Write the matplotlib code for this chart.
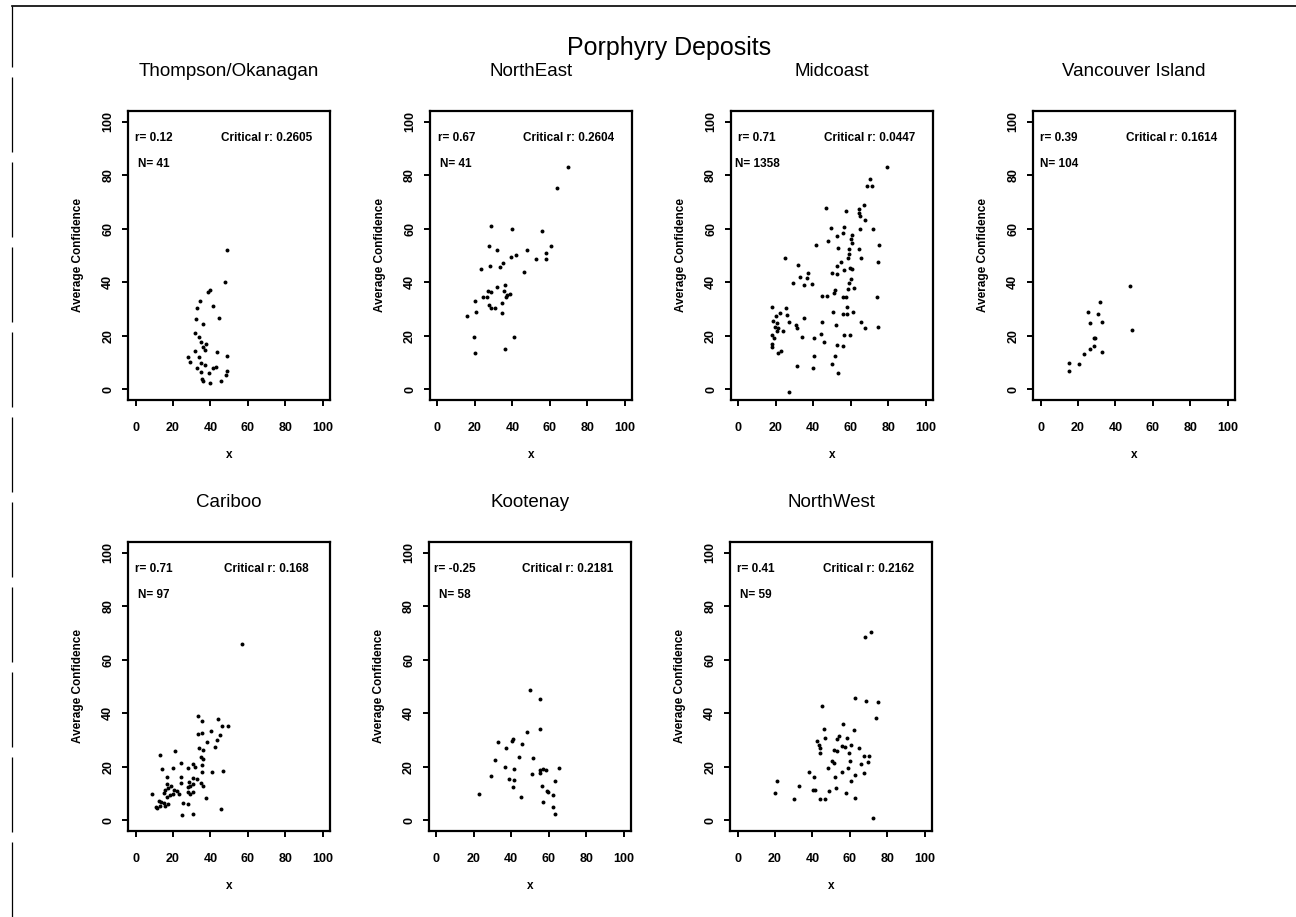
import matplotlib.pyplot as plt
from matplotlib.lines import Line2D

plt.rcParams['font.family'] = ['Liberation Sans', 'DejaVu Sans']

# panel titles and the stats printed in each panel
regions = ["Thompson/Okanagan", "NorthEast", "Midcoast", "Vancouver Island",
           "Cariboo", "Kootenay", "NorthWest"]
r_values = ["0.12", "0.67", "0.71", "0.39", "0.71", "-0.25", "0.41"]
critical_r = ["0.2605", "0.2604", "0.0447", "0.1614", "0.168", "0.2181", "0.2162"]
n_values = ["41", "41", "1358", "104", "97", "58", "59"]

# Thompson/Okanagan
thompson_x = [48.8, 47.7, 39.0, 39.7, 34.4, 32.6, 41.5, 32.3, 44.5, 36.2, 31.7, 33.7,
              37.6, 35.8, 31.6, 43.6, 27.8, 33.9, 49.1, 29.3, 34.8, 37.1, 32.8, 41.5,
              42.9, 35.1, 39.4, 49.1, 48.2, 35.3, 39.9, 45.7, 36.2, 37.2, 35.0]
thompson_y = [52.2, 40.0, 36.5, 37.2, 33.0, 30.2, 31.3, 26.4, 26.8, 24.3, 21.2, 19.4,
              17.1, 15.9, 14.3, 13.8, 12.0, 12.1, 12.4, 10.3, 10.0, 9.0, 8.1, 8.0,
              8.4, 6.5, 6.1, 6.9, 5.5, 3.8, 2.5, 3.0, 3.0, 14.5, 17.5]

# NorthEast
northeast_x = [69.6, 64.1, 28.7, 40.0, 55.8, 27.3, 31.9, 60.9, 48.1, 58.2, 42.1, 39.4,
               52.7, 57.9, 23.0, 28.3, 33.3, 35.0, 46.5, 36.3, 31.8, 27.1, 28.8, 35.8,
               38.9, 19.8, 24.4, 26.2, 34.5, 36.5, 27.4, 28.8, 30.6, 20.4, 34.5, 15.9,
               19.3, 40.7, 20.0, 36.1, 37.2]
northeast_y = [83.1, 75.3, 61.1, 59.9, 59.0, 53.6, 52.1, 53.6, 52.1, 50.9, 50.1, 49.3,
               48.6, 48.6, 45.0, 46.1, 45.8, 47.3, 43.9, 38.8, 38.4, 36.6, 36.3, 36.6,
               35.6, 33.1, 34.3, 34.3, 32.4, 34.6, 31.4, 30.5, 30.4, 29.0, 28.6, 27.5,
               19.6, 19.4, 13.4, 15.1, 35.3]

# Midcoast
midcoast_x = [79.2, 70.3, 68.5, 71.4, 67.3, 64.6, 46.6, 57.5, 64.2, 64.9, 67.8, 49.6,
              56.6, 64.9, 71.7, 56.0, 52.8, 60.7, 60.1, 41.5, 47.7, 60.9, 74.9, 53.2,
              59.3, 64.2, 59.3, 58.5, 65.5, 24.9, 55.0, 74.6, 52.8, 31.7, 59.4, 60.9,
              56.2, 50.2, 52.5, 37.4, 33.1, 36.7, 29.4, 39.1, 34.9, 60.0, 59.3, 61.8,
              58.5, 51.4, 51.2, 44.8, 47.5, 56.0, 57.6, 74.0, 17.8, 25.3, 58.2, 50.7,
              56.0, 57.8, 61.4, 20.1, 22.2, 26.2, 18.7, 20.6, 27.0, 35.0, 44.8, 65.3,
              52.3, 30.8, 31.1, 19.7, 21.3, 67.4, 74.6, 24.0, 20.8, 17.8, 18.9, 33.8,
              40.4, 56.4, 59.4, 44.0, 56.0, 45.6, 52.5, 17.8, 17.8, 21.3, 22.6, 40.6,
              51.8, 31.5, 40.0, 49.8, 53.4, 27.2]
midcoast_y = [83.1, 78.7, 75.9, 75.8, 69.0, 67.3, 67.7, 66.5, 65.8, 64.8, 63.3, 60.3,
              60.8, 59.9, 59.9, 58.3, 57.4, 57.6, 56.1, 54.0, 55.3, 54.6, 54.0, 52.8,
              52.4, 52.4, 50.5, 49.2, 49.0, 49.2, 47.7, 47.4, 46.1, 46.6, 45.2, 45.1,
              44.5, 43.6, 43.2, 43.4, 42.1, 41.4, 39.8, 39.5, 39.1, 41.1, 39.8, 38.0,
              37.3, 37.1, 36.1, 34.8, 34.8, 34.5, 34.5, 34.6, 30.8, 30.4, 30.8, 28.8,
              28.2, 28.2, 28.8, 27.3, 28.6, 27.9, 25.4, 24.8, 25.2, 26.6, 25.1, 25.2,
              23.9, 24.2, 22.9, 23.3, 22.8, 22.9, 23.2, 21.9, 21.9, 20.4, 19.0, 19.4,
              19.2, 20.2, 20.2, 20.7, 16.0, 17.5, 16.7, 17.0, 15.8, 13.5, 14.2, 12.5,
              12.3, 8.8, 8.1, 9.4, 6.0, -1.0]

# Vancouver Island
vancouver_x = [47.7, 48.8, 32.0, 25.3, 30.7, 26.5, 32.9, 29.3, 28.4, 26.3, 23.5, 33.0,
               20.8, 15.4, 15.4, 28.8]
vancouver_y = [38.7, 22.2, 32.5, 29.0, 28.0, 24.7, 25.0, 19.3, 16.0, 15.0, 13.3, 13.9,
               9.6, 10.0, 6.9, 19.0]

# Cariboo
cariboo_x = [56.7, 33.5, 35.5, 44.0, 46.3, 49.5, 40.1, 33.5, 35.5, 43.3, 45.4, 38.3,
             42.6, 34.0, 35.8, 34.9, 35.8, 13.1, 21.3, 24.3, 30.5, 31.9, 35.5, 19.9,
             28.2, 14.2, 40.8, 46.5, 35.5, 16.7, 24.1, 30.9, 32.6, 34.9, 24.3, 28.4,
             30.7, 16.7, 35.8, 19.1, 27.9, 29.3, 16.0, 17.6, 20.6, 22.0, 15.4, 8.9,
             27.9, 30.5, 19.9, 23.0, 29.3, 16.7, 37.6, 12.8, 15.2, 17.2, 27.9, 13.3,
             16.0, 25.2, 11.5, 45.7, 25.0, 30.5, 10.8, 13.7, 18.6]
cariboo_y = [65.7, 38.8, 37.0, 37.9, 35.4, 35.4, 33.2, 32.2, 32.5, 30.1, 32.0, 29.1,
             27.5, 27.0, 26.2, 23.7, 22.8, 24.3, 26.0, 21.3, 21.2, 19.9, 20.7, 19.4,
             19.4, 19.1, 18.2, 18.4, 18.2, 16.2, 16.2, 15.9, 15.3, 14.1, 14.1, 14.4,
             13.7, 13.4, 12.8, 12.8, 12.4, 12.8, 11.5, 11.9, 11.2, 10.9, 10.3, 9.9,
             10.7, 10.7, 9.9, 9.7, 9.9, 8.7, 8.2, 7.2, 6.5, 6.1, 6.1, 5.5,
             5.3, 6.3, 4.6, 4.4, 2.1, 2.5, 4.9, 6.9, 9.3]

# Kootenay
kootenay_x = [50.0, 55.3, 55.5, 48.6, 32.8, 40.2, 41.1, 37.2, 45.7, 44.0, 51.4, 31.2,
              36.9, 41.7, 65.6, 55.3, 56.7, 58.5, 55.3, 51.1, 29.1, 38.9, 41.5, 63.3,
              40.8, 56.2, 58.9, 59.8, 62.1, 22.5, 45.2, 56.7, 62.1, 63.3]
kootenay_y = [48.7, 45.4, 34.2, 32.8, 29.4, 29.8, 30.3, 26.9, 28.4, 23.5, 23.1, 22.7,
              19.9, 19.3, 19.7, 18.7, 19.0, 18.9, 17.7, 17.4, 16.4, 15.5, 14.9, 14.6,
              12.6, 12.9, 11.1, 10.7, 9.6, 9.8, 8.8, 6.7, 5.0, 2.5]

# NorthWest
northwest_x = [71.3, 68.1, 63.0, 68.5, 75.0, 45.1, 74.0, 56.3, 46.0, 62.5, 54.0, 58.4,
               46.7, 42.5, 53.1, 60.7, 55.8, 57.7, 65.1, 43.9, 51.7, 53.1, 59.5, 43.9,
               67.8, 70.1, 50.6, 51.8, 60.2, 69.9, 66.2, 48.3, 59.3, 38.4, 55.6, 67.4,
               62.8, 41.1, 52.0, 60.7, 21.2, 32.6, 52.4, 40.4, 41.4, 20.0, 48.8, 57.9,
               62.7, 30.3, 44.1, 46.7, 72.6, 43.5]
northwest_y = [70.4, 68.6, 45.6, 44.6, 44.2, 42.7, 38.4, 35.8, 34.0, 33.9, 31.4, 30.9,
               30.7, 29.8, 30.2, 28.2, 27.6, 27.3, 27.0, 27.0, 26.3, 25.7, 25.1, 25.1,
               23.9, 23.9, 22.3, 21.3, 22.3, 21.7, 21.0, 19.4, 19.5, 17.9, 17.9, 17.5,
               17.0, 16.0, 16.0, 14.7, 14.5, 12.8, 12.2, 11.2, 11.2, 10.3, 11.0, 10.1,
               8.4, 7.8, 7.8, 8.1, 0.9, 28.0]

xs = [thompson_x, northeast_x, midcoast_x, vancouver_x, cariboo_x, kootenay_x, northwest_x]
ys = [thompson_y, northeast_y, midcoast_y, vancouver_y, cariboo_y, kootenay_y, northwest_y]
ticks = [0, 20, 40, 60, 80, 100]

fig = plt.figure(figsize=(12.96, 9.17), dpi=100)

# panel boxes in figure fraction (left, bottom)
lefts = [0.0988, 0.3318, 0.5640, 0.7971, 0.0988, 0.3310, 0.5633]
bottoms = [0.5638] * 4 + [0.0938] * 3
w, h = 0.1559, 0.3152

for i in range(7):
    ax = fig.add_axes([lefts[i], bottoms[i], w, h])
    ax.scatter(xs[i], ys[i], s=8, c='black', linewidths=0)
    ax.set_xlim(-4, 104)
    ax.set_ylim(-4, 104)
    ax.set_xticks(ticks)
    ax.set_yticks(ticks)
    for s in ax.spines.values():
        s.set_linewidth(1.6)
    ax.tick_params(axis='both', direction='out', length=4, width=1.4, labelsize=9)
    ax.tick_params(axis='x', pad=12)
    ax.tick_params(axis='y', pad=6)
    for lab in ax.get_xticklabels() + ax.get_yticklabels():
        lab.set_fontweight('bold')
    for lab in ax.get_yticklabels():
        lab.set_rotation(90)
        lab.set_va('center')
    ax.set_title(regions[i], fontsize=13.5, pad=25)
    ax.set_xlabel('x', fontsize=8.5, fontweight='bold', labelpad=11)
    ax.set_ylabel('Average Confidence', fontsize=8.5, fontweight='bold', labelpad=13)
    ax.text(10, 94, 'r= ' + r_values[i], fontsize=8.5, fontweight='bold', ha='center', va='center')
    ax.text(70, 94, 'Critical r: ' + critical_r[i], fontsize=8.5, fontweight='bold',
            ha='center', va='center')
    ax.text(10, 84, 'N= ' + n_values[i], fontsize=8.5, fontweight='bold', ha='center', va='center')

fig.text(0.516, 0.948, 'Porphyry Deposits', fontsize=18, ha='center', va='center')

# edges of the scanned page
fig.add_artist(Line2D([0.009, 1.0], [0.993, 0.993], color='black', lw=1.2))
fig.add_artist(Line2D([0.009, 0.009], [0.0, 0.993], color='black', lw=0.9,
                      linestyle=(0, (60, 8))))

fig.savefig('out.png', dpi=100)
